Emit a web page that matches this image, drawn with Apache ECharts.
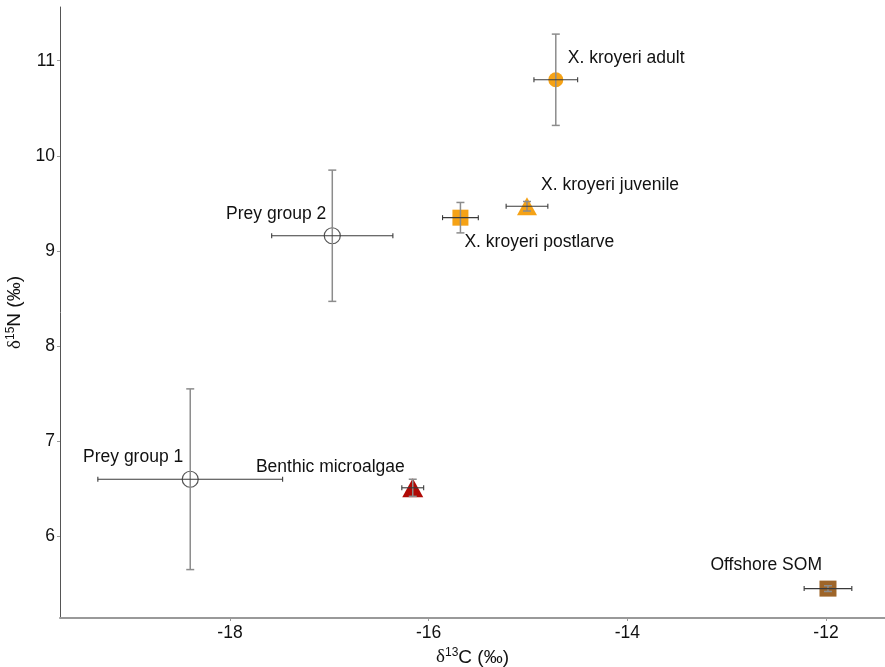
<!DOCTYPE html>
<html>
<head>
<meta charset="utf-8">
<script src="https://cdn.jsdelivr.net/npm/echarts@6/dist/echarts.min.js"></script>
<style>
html,body{margin:0;padding:0;background:#fff;}
#main{width:885px;height:667px;}
</style>
</head>
<body>
<div id="main"></div>
<script>
// ---- data ----
var groups = ['Prey group 1','Prey group 2','Benthic microalgae','X. kroyeri postlarve','X. kroyeri juvenile','X. kroyeri adult','Offshore SOM'];
var d13C = [-18.40, -16.97, -16.16, -15.68, -15.01, -14.72, -11.98];
var d15N = [6.60, 9.16, 6.51, 9.35, 9.47, 10.80, 5.45];
var sdC  = [0.93, 0.61, 0.11, 0.18, 0.21, 0.22, 0.24];
var sdN  = [0.95, 0.69, 0.09, 0.16, 0.05, 0.48, 0.03];
var xTicks = [-18, -16, -14, -12];
var yTicks = [6, 7, 8, 9, 10, 11];

// ---- styles ----
var styles = [
  {symbol:'circle', size:16, color:'rgba(0,0,0,0)', border:'#555', align:'right', offset:[-7,-22]},
  {symbol:'circle', size:16, color:'rgba(0,0,0,0)', border:'#555', align:'right', offset:[-6,-22]},
  {symbol:'triangle', size:[21,19], color:'#B00A06', border:null, align:'right', offset:[-8,-21]},
  {symbol:'rect', size:16, color:'#F5A216', border:null, align:'left', offset:[4,24]},
  {symbol:'triangle', size:[20,18], color:'#F5A216', border:null, align:'left', offset:[14,-21]},
  {symbol:'circle', size:15, color:'#F5A216', border:null, align:'left', offset:[12,-22]},
  {symbol:'rect', size:[17,16], color:'#9E6529', border:null, align:'right', offset:[-6,-23]}
];

var font = 'Liberation Sans, Arial, sans-serif';
var scatterData = groups.map(function(g, i){
  var s = styles[i];
  return {
    name: g,
    value: [d13C[i], d15N[i]],
    symbol: s.symbol,
    symbolSize: s.size,
    itemStyle: {color: s.color, borderColor: s.border || s.color, borderWidth: s.border ? 1.2 : 0, opacity: 1},
    label: {show: true, formatter: g, position: 'inside', align: s.align, verticalAlign: 'middle',
            offset: s.offset, color: '#111', textBorderWidth: 0, fontSize: 17.5, fontFamily: font}
  };
});

var errData = groups.map(function(g, i){ return [d13C[i], d15N[i], sdC[i], sdN[i]]; });

function renderErr(params, api){
  var x = api.value(0), y = api.value(1), ex = api.value(2), ey = api.value(3);
  var l = api.coord([x-ex, y]), r = api.coord([x+ex, y]);
  var t = api.coord([x, y+ey]), b = api.coord([x, y-ey]);
  var vcol = '#8c8c8c', hcol = '#3a3a3a';
  var capV = 4, capH = 2.5;
  function line(x1,y1,x2,y2,col,w){
    return {type:'line', shape:{x1:x1,y1:y1,x2:x2,y2:y2}, style:{stroke:col, lineWidth:w}};
  }
  return {type:'group', children:[
    line(t[0], t[1], b[0], b[1], vcol, 1.5),
    line(t[0]-capV, t[1], t[0]+capV, t[1], vcol, 1.5),
    line(b[0]-capV, b[1], b[0]+capV, b[1], vcol, 1.5),
    line(l[0], l[1], r[0], r[1], hcol, 1.1),
    line(l[0], l[1]-capH, l[0], l[1]+capH, hcol, 1.1),
    line(r[0], r[1]-capH, r[0], r[1]+capH, hcol, 1.1)
  ]};
}

var titleRich = {
  d: {fontSize: 19, fontFamily: 'Liberation Serif, serif', color: '#111', verticalAlign: 'bottom'},
  s: {fontSize: 12, fontFamily: font, color: '#111', verticalAlign: 'bottom', padding: [0, 0, 8, 0]},
  n: {fontSize: 19, fontFamily: font, color: '#111', verticalAlign: 'bottom'}
};

var chart = echarts.init(document.getElementById('main'), null, {renderer:'canvas'});
chart.setOption({
  backgroundColor: '#fff',
  animation: false,
  grid: {left: 60, right: 0, top: 7, bottom: 49, containLabel: false, outerBoundsMode: 'none'},
  xAxis: {
    type: 'value', min: -19.711, max: -11.406,
    splitLine: {show: false},
    axisLine: {show: true, lineStyle: {color: '#999', width: 2}},
    axisTick: {show: true, length: 3, lineStyle: {color: '#999'}, customValues: xTicks},
    axisLabel: {customValues: xTicks, fontSize: 17.5, color: '#111', fontFamily: font, margin: 6},
    name: '{d|δ}{s|13}{n|C (‰)}',
    nameLocation: 'middle', nameGap: 21,
    nameTextStyle: {rich: titleRich}
  },
  yAxis: {
    type: 'value', min: 5.141, max: 11.565,
    splitLine: {show: false},
    axisLine: {show: true, lineStyle: {color: '#555', width: 1}},
    axisTick: {show: true, length: 3, lineStyle: {color: '#999'}, customValues: yTicks},
    axisLabel: {customValues: yTicks, fontSize: 17.5, color: '#111', fontFamily: font, margin: 5},
    name: '{d|δ}{s|15}{n|N (‰)}',
    nameLocation: 'middle', nameGap: 27, nameRotate: 90,
    nameTextStyle: {rich: titleRich}
  },
  series: [
    {type: 'scatter', data: scatterData, z: 2},
    {type: 'custom', data: errData, renderItem: renderErr, z: 3, clip: false, silent: true,
     encode: {x: 0, y: 1}}
  ]
});
</script>
</body>
</html>
